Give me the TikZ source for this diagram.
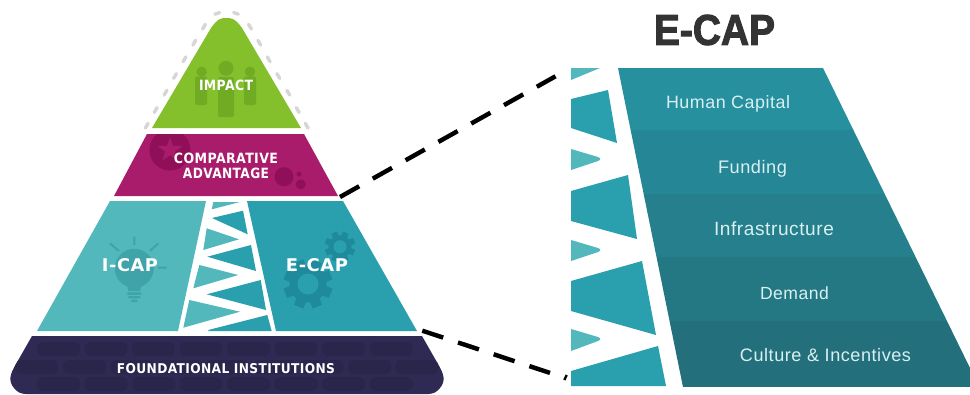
\documentclass[tikz,border=0pt]{standalone}
\usepackage{fontspec}
\setmainfont{Liberation Sans}
\newfontfamily\labelfont[LetterSpace=3]{DejaVu Sans}
\newfontfamily\titlefont[FakeBold=2.5]{Liberation Sans}
\newfontfamily\panelfont[LetterSpace=3]{Liberation Sans}
\newcommand{\fitbox}[3]{\resizebox{#1pt}{#2pt}{#3}}
\definecolor{cgreen}{HTML}{84BF2C}
\definecolor{cgreendk}{HTML}{70AB24}
\definecolor{cmag}{HTML}{A91B6B}
\definecolor{cmagdk}{HTML}{8F1058}
\definecolor{cicap}{HTML}{52B8BC}
\definecolor{cecap}{HTML}{2A9FAE}
\definecolor{cbulb}{HTML}{3FA3A9}
\definecolor{cgear}{HTML}{1F8A9C}
\definecolor{cfound}{HTML}{2E2A54}
\definecolor{cbrick}{HTML}{29254B}
\definecolor{cpaneltext}{HTML}{D8F0F2}
\definecolor{cdots}{HTML}{D6D6D6}
\definecolor{cband1}{HTML}{26909F}
\definecolor{cband2}{HTML}{258696}
\definecolor{cband3}{HTML}{257F8C}
\definecolor{cband4}{HTML}{247884}
\definecolor{cband5}{HTML}{23707C}
\tikzset{
  pyrlabel/.style={inner sep=0pt,text=white,font=\labelfont\bfseries},
  panellabel/.style={inner sep=0pt,text=cpaneltext,font=\panelfont},
  dashline/.style={line width=4.4pt,black,dash pattern=on 22pt off 15.6pt},
  dashshadow/.style={line width=4.4pt,black!45,opacity=.3,dash pattern=on 22pt off 15.6pt},
  brick/.style={cbrick,rounded corners=6pt},
  towerlight/.style={fill=cicap},
  towerdark/.style={fill=cecap},
  apexdash/.style={cdots,line width=3.4pt,line cap=round},
}
\begin{document}
\begin{tikzpicture}[x=1pt,y=-1pt]
\useasboundingbox (0,0) rectangle (970,394);
\fill[white] (0,0) rectangle (970,394);

% --- dotted outline round the apex, dash by dash
\foreach \x/\y in {146.7/125.7,155.7/110,165.5/92.7,175/76,184.5/59.3,194.3/42.7,204/26.7}
  \draw[apexdash] (\x-1.4,\y+2.4) -- (\x+1.4,\y-2.4);
\foreach \x/\y in {250/26.7,259.3/42.7,268.7/59.3,278.3/76,288.3/92.7,297.7/110,306.7/125.7}
  \draw[apexdash] (\x-1.4,\y-2.4) -- (\x+1.4,\y+2.4);
\draw[apexdash] (215,14.2) -- (219.6,12.6);
\draw[apexdash] (233.7,12.6) -- (238.3,14.2);

% --- IMPACT
\fill[cgreen] (152,128) -- (211,28) .. controls (218,18) and (222,18) .. (226,18)
  .. controls (231,18) and (235,18) .. (242,28) -- (301,128) -- cycle;
\fill[cgreendk] (226,68.3) circle (7.5) (201.7,71.7) circle (5.2) (250,71.7) circle (5.2);
\fill[cgreendk,rounded corners=2pt] (195,76.5) rectangle (207,105) (244,76.5) rectangle (256,105);
\fill[cgreendk,rounded corners=2pt] (218,77) rectangle (234,117);
\node[pyrlabel] (impact) at (226,85.5) {\fitbox{54}{10.5}{IMPACT}};

% --- COMPARATIVE ADVANTAGE
\fill[cmag] (147,134) -- (304,134) -- (338,196) -- (114,196) -- cycle;
\begin{scope}
  \clip (147,134) -- (304,134) -- (338,196) -- (114,196) -- cycle;
  \fill[cmagdk] (170,150) circle (20.5);
\end{scope}
\fill[cmag] (170,137)
  -- (173,145.9) -- (182.4,146) -- (174.9,151.6) -- (177.6,160.5) -- (170,155.2)
  -- (162.4,160.5) -- (165.1,151.6) -- (157.6,146) -- (167,145.9) -- cycle;
\fill[cmagdk] (284,176.7) circle (9.5) (300.7,184.3) circle (5) (299,174) circle (2.5);
\node[pyrlabel] (compar) at (226,158.5) {\fitbox{104}{10.5}{COMPARATIVE}};
\node[pyrlabel] (advant) at (226,173) {\fitbox{86}{10.5}{ADVANTAGE}};

% --- I-CAP
\fill[cicap] (110,201) -- (206,201) -- (178,331) -- (37,331) -- cycle;
\fill[cbulb] (134.3,268.3) circle (19.5);
\fill[cbulb] (126,280) -- (142.5,280) -- (140,291) -- (128.5,291) -- cycle;
\fill[cbulb,rounded corners=1pt] (127,292.3) rectangle (141.5,294.8) (128,296) rectangle (140.5,298.3) (131,299.5) rectangle (137.5,302);
\draw[cbulb,line width=2pt] (134.3,236.7) -- (134.3,245) (110,243.3) -- (119,251) (158.3,243.3) -- (150,251) (158,267.7) -- (166.7,267.7);
\node[pyrlabel] (icap) at (130,265.5) {\fitbox{56}{13}{I-CAP}};

% --- E-CAP
\fill[cecap] (247,201) -- (343,201) -- (417,331) -- (276,331) -- cycle;
\foreach \a in {0,45,...,315} {
  \fill[cgear,rotate around={\a+22.5:(308,284)}] (303,259.5) rectangle (313,272);
  \fill[cgear,rotate around={\a+22.5:(340,246.7)}] (337,231.5) rectangle (343,240);
}
\fill[cgear] (308,284) circle (18.5) (340,246.7) circle (11.5);
\fill[cecap] (308,284) circle (10.5) (340,246.7) circle (6.5);
\node[pyrlabel] (ecap) at (317,265.5) {\fitbox{62}{13}{E-CAP}};

% --- tower between I-CAP and E-CAP
\path[towerlight] (213.3,202) -- (240,202) -- (211.7,209.3) -- cycle;
\path[towerdark]  (212,218) -- (243,210.7) -- (247.7,234.3) -- cycle;
\path[towerlight] (206.7,228.3) -- (239,239.3) -- (203.3,250) -- cycle;
\path[towerdark]  (207.3,256.7) -- (251,245) -- (256,271) -- cycle;
\path[towerlight] (199.3,265) -- (238.3,275) -- (193.3,288.3) -- cycle;
\path[towerdark]  (206.7,294.3) -- (260.7,280) -- (266,310) -- cycle;
\path[towerlight] (189.3,300) -- (240,311.7) -- (183.3,327.7) -- cycle;
\path[towerdark]  (208.3,330) -- (267.3,315) -- (271.7,331) -- (208.3,331) -- cycle;

% --- FOUNDATIONAL INSTITUTIONS
\fill[cfound] (32,336) -- (422,336) -- (438,364) .. controls (444,374) and (446,381) .. (440,388)
  .. controls (437,392) and (433,394) .. (428,394) -- (26,394)
  .. controls (21,394) and (17,392) .. (14,388) .. controls (8,381) and (10,374) .. (16,364) -- cycle;
\begin{scope}
  \clip (32,336) -- (422,336) -- (438,364) .. controls (444,374) and (446,381) .. (440,388)
  .. controls (437,392) and (433,394) .. (428,394) -- (26,394)
  .. controls (21,394) and (17,392) .. (14,388) .. controls (8,381) and (10,374) .. (16,364) -- cycle;
  \foreach \x in {37,84.5,132,179.5,227,274.5,322,369.5} {
    \fill[brick] (\x,342) rectangle ++(43,14);
    \fill[brick] (\x,377) rectangle ++(43,14);
  }
  \foreach \x in {15,63,110.5,158,205.5,253,300.5,348,395.5} {
    \fill[brick] (\x,360) rectangle ++(43,14);
  }
\end{scope}
\node[pyrlabel] (found) at (226,369) {\fitbox{218}{10}{FOUNDATIONAL INSTITUTIONS}};

% --- panel: title
\node[inner sep=0pt,text=black!80,font=\titlefont\bfseries] (title) at (714.5,30) {\fitbox{121}{30}{E-CAP}};

% --- panel: tower detail
\fill[cicap] (571,68) -- (600,68) -- (571,80) -- cycle;
\fill[cecap] (571,99) -- (608,90) -- (617,143) -- (571,128) -- cycle;
\fill[cicap] (571,149) -- (598,157) .. controls (601,158) and (601,160) .. (598,161) -- (571,170) -- cycle;
\fill[cecap] (571,191) -- (628,175) -- (637,239) -- (571,221) -- cycle;
\fill[cicap] (571,240) -- (598,248) .. controls (601,249) and (601,251) .. (598,252) -- (571,261) -- cycle;
\fill[cecap] (571,281) -- (642,261) -- (656,335) -- (571,311) -- cycle;
\fill[cicap] (571,329) -- (598,337) .. controls (601,338) and (601,340) .. (598,341) -- (571,351) -- cycle;
\fill[cecap] (571,371) -- (658,346) -- (666,386) -- (571,386) -- cycle;

% --- panel: E-CAP bands
\begin{scope}
  \clip (618,68) -- (823,68) -- (970,368) -- (970,387) -- (683,387) -- cycle;
  \fill[cband1] (600,68) rectangle (970,130);
  \fill[cband2] (600,130) rectangle (970,194);
  \fill[cband3] (600,194) rectangle (970,257);
  \fill[cband4] (600,257) rectangle (970,321);
  \fill[cband5] (600,321) rectangle (970,387);
\end{scope}
\node[panellabel,anchor=base] (p1) at (728,108) {\resizebox{124pt}{!}{Human Capital}};
\node[panellabel,anchor=base] (p2) at (752.5,173) {\resizebox{69pt}{!}{Funding}};
\node[panellabel,anchor=base] (p3) at (774,235) {\resizebox{120pt}{!}{Infrastructure}};
\node[panellabel,anchor=base] (p4) at (794.5,299) {\resizebox{69pt}{!}{Demand}};
\node[panellabel,anchor=base] (p5) at (825.5,361) {\resizebox{171pt}{!}{Culture \& Incentives}};

% --- dashed connectors
\coordinate (from1) at (340,197);
\coordinate (to1) at (555.5,76.3);
\coordinate (from2) at (422.3,330.7);
\coordinate (to2) at (550,372.9);
\coordinate (tickA) at (564.3,380);
\coordinate (tickB) at (566.7,375);
\draw[dashshadow,shift={(-1pt,-2pt)}] (from1) -- (to1);
\draw[dashshadow,shift={(-1pt,-2pt)}] (from2) -- (to2);
\draw[dashline] (from1) -- (to1);
\draw[dashline] (from2) -- (to2);
\draw[black,line width=2.4pt] (tickA) -- (tickB);
\end{tikzpicture}
\end{document}
